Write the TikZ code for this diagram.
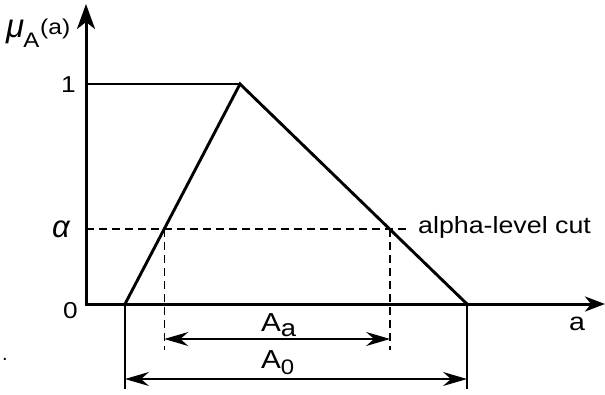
\documentclass[tikz,border=0pt]{standalone}
\usepackage{fontspec}
\setmainfont{Liberation Sans}
\usetikzlibrary{arrows.meta}
\newcommand{\hstretch}[1]{\scalebox{1.14}[1]{#1}}
\begin{document}
\begin{tikzpicture}[x=1pt,y=-1pt,
  axis/.style={line width=3pt},
  axtip/.style={-{Stealth[length=25pt,width=18pt,inset=7pt]}},
  tri/.style={line width=2.9pt,line join=miter},
  thinline/.style={line width=1.3pt},
  dashline/.style={line width=1.3pt,dash pattern=on 8pt off 5pt},
  dim/.style={line width=1.3pt,{Stealth[length=24pt,width=14pt,inset=8pt]}-{Stealth[length=24pt,width=14pt,inset=8pt]}},
  lbl/.style={inner sep=0pt,font=\fontsize{23}{25}\selectfont}]
\useasboundingbox (0,0) rectangle (605,394);
\coordinate (O) at (86,304);
\coordinate (ytop) at (86,4);
\coordinate (xend) at (605,304);
\coordinate (L) at (125,304);
\coordinate (P) at (240,84);
\coordinate (R) at (467,304);
\coordinate (y1) at (86,84);
\coordinate (ya) at (86,229);
\coordinate (CL) at (164.3,229);
\coordinate (CR) at (390.1,229);
\coordinate (cutend) at (406,229);
\coordinate (CLb) at (164.3,350);
\coordinate (CRb) at (390.1,350);
\coordinate (Lb) at (125,389);
\coordinate (Rb) at (467,389);
\coordinate (AaL) at (164.3,339);
\coordinate (AaR) at (390.1,339);
\coordinate (A0L) at (125,379);
\coordinate (A0R) at (467,379);
\draw[thinline] (y1) -- (P);
\draw[dashline] (ya) -- (cutend);
\draw[dashline] (CL) -- (CLb);
\draw[dashline] (CR) -- (CRb);
\draw[thinline] (L) -- (Lb);
\draw[thinline] (R) -- (Rb);
\draw[dim] (AaL) -- (AaR);
\draw[dim] (A0L) -- (A0R);
\draw[tri] (L) -- (P) -- (R);
\draw[axis,axtip] (86,305.5) -- (ytop);
\draw[axis,-{Stealth[length=20pt,width=15pt,inset=6pt]}] (84.5,304) -- (xend);
\node[lbl,anchor=base west] (mu) at (6,37) {\fontsize{33}{35}\selectfont\itshape μ\kern-1pt\raisebox{-10pt}{\fontsize{21}{24}\selectfont\upshape\hstretch{A}}\kern1pt\raisebox{3pt}{\fontsize{21.5}{23}\selectfont\upshape\hstretch{(a)}}};
\node[lbl,anchor=base east] (one) at (76,92) {\fontsize{23}{25}\selectfont\hstretch{1}};
\node[lbl,anchor=base west] (alpha) at (52,237) {\fontsize{31}{33}\selectfont\itshape α};
\node[lbl,anchor=base east] (zero) at (78,318) {\fontsize{23}{25}\selectfont\hstretch{0}};
\node[lbl,anchor=base west] (a) at (569,330) {\fontsize{25}{27}\selectfont\hstretch{a}};
\node[lbl,anchor=base west] (cut) at (418,233) {\fontsize{23.5}{26}\selectfont\hstretch{alpha-level cut}};
\node[lbl,anchor=base west] (Aa) at (261,331) {\fontsize{26}{28}\selectfont\hstretch{A}\raisebox{-5pt}{\fontsize{24}{26}\selectfont\hstretch{a}}};
\node[lbl,anchor=base west] (A0) at (261,368) {\fontsize{26}{28}\selectfont\hstretch{A}\raisebox{-6pt}{\fontsize{21}{23}\selectfont\hstretch{0}}};
\node[lbl,anchor=base west] (dot) at (2,360) {\fontsize{20}{22}\selectfont .};
\end{tikzpicture}
\end{document}
